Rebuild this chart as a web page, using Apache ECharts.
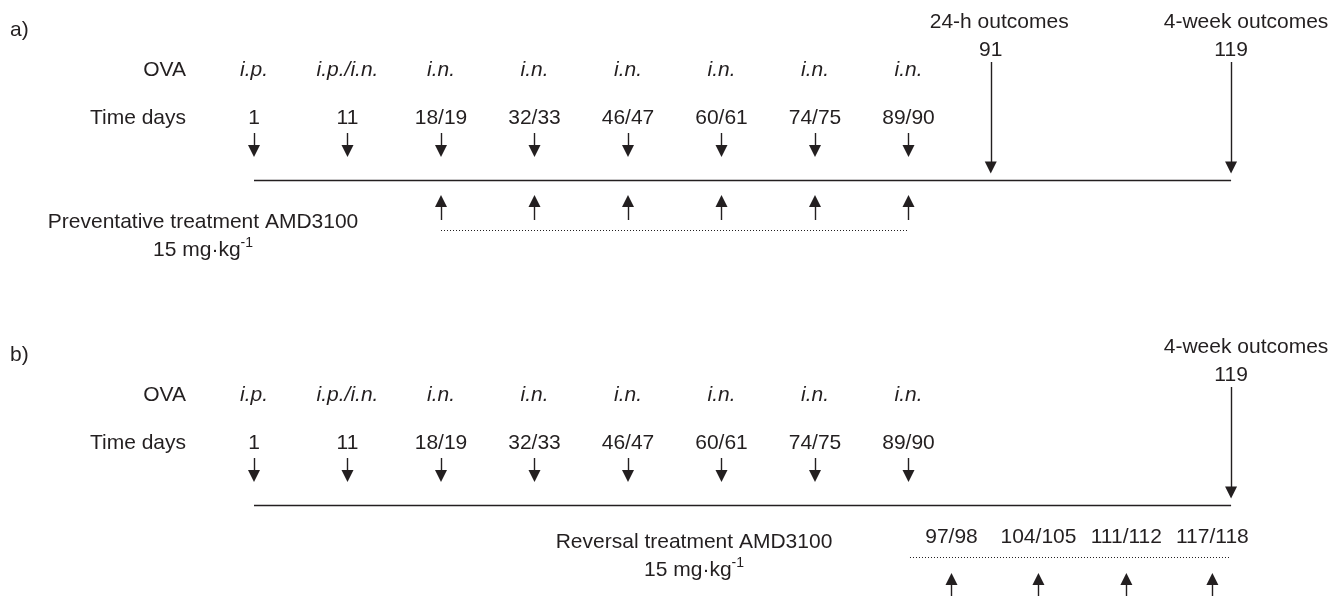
<!DOCTYPE html>
<html>
<head>
<meta charset="utf-8">
<title>OVA / AMD3100 protocol</title>
<script src="https://cdn.jsdelivr.net/npm/echarts@6/dist/echarts.min.js"></script>
<style>
html, body { margin: 0; padding: 0; background: #fff; }
#protocol-chart { width: 1344px; height: 596px; }
</style>
</head>
<body>
<div id="protocol-chart"></div>
<script>
// data
var ovaRoutes = ['i.p.', 'i.p./i.n.', 'i.n.', 'i.n.', 'i.n.', 'i.n.', 'i.n.', 'i.n.'];
var ovaDays = ['1', '11', '18/19', '32/33', '46/47', '60/61', '74/75', '89/90'];
var outcomeNamesA = ['24-h outcomes', '4-week outcomes'];
var outcomeDaysA = ['91', '119'];
var outcomeNamesB = ['4-week outcomes'];
var outcomeDaysB = ['119'];
var preventDays = ['18/19', '32/33', '46/47', '60/61', '74/75', '89/90'];
var reversalDays = ['97/98', '104/105', '111/112', '117/118'];

// layout: x is in "slots" (one slot per OVA dose), y in px inside a panel
var outcomeSlot = { '91': 7.88, '119': 10.45 };
var outcomeHeadShift = { '91': 0.09, '119': 0.16 };
var reversalSlot = [7.46, 8.39, 9.33, 10.25];
var ink = '#231f20';
var font = "'Liberation Sans', Arial, sans-serif";
var fs = 21;

var myChart = echarts.init(document.getElementById('protocol-chart'));

function slotOf(day) {
    var i = ovaDays.indexOf(day);
    return i >= 0 ? i : outcomeSlot[day];
}

function textSeries(grid, items, extra) {
    return {
        type: 'scatter',
        xAxisIndex: grid,
        yAxisIndex: grid,
        symbolSize: 0,
        silent: true,
        itemStyle: { opacity: 1 },
        label: Object.assign({
            show: true,
            position: 'inside',
            formatter: '{b}',
            color: ink,
            fontSize: fs,
            fontFamily: font,
            align: 'center',
            verticalAlign: 'middle'
        }, extra || {}),
        data: items.map(function (it) {
            return { name: it[0], value: [it[1], it[2]] };
        })
    };
}

function lineSeries(grid, segs, arrow, dotted) {
    return {
        type: 'lines',
        coordinateSystem: 'cartesian2d',
        xAxisIndex: grid,
        yAxisIndex: grid,
        silent: true,
        symbol: arrow ? ['none', 'triangle'] : 'none',
        symbolSize: 12,
        lineStyle: {
            color: ink,
            width: dotted ? 1 : 1.4,
            type: dotted ? [1, 2] : 'solid',
            opacity: 1
        },
        itemStyle: { color: ink, opacity: 1 },
        data: segs.map(function (s) { return { coords: s }; })
    };
}

function panel(grid, tag, outNames, outDays) {
    var list = [];
    list.push(textSeries(grid, [[tag, -2.61, 30]], { align: 'left' }));
    list.push(textSeries(grid, [['OVA', -0.727, 70], ['Time days', -0.727, 118]], { align: 'right' }));
    list.push(textSeries(grid, ovaRoutes.map(function (r, i) { return [r, i, 70]; }), { fontStyle: 'italic' }));
    list.push(textSeries(grid, ovaDays.map(function (d, i) { return [d, i, 118]; })));
    var heads = [];
    outDays.forEach(function (d, i) {
        heads.push([outNames[i], outcomeSlot[d] + outcomeHeadShift[d], 22]);
        heads.push([d, outcomeSlot[d], 50]);
    });
    list.push(textSeries(grid, heads));
    // dose arrows
    list.push(lineSeries(grid, ovaDays.map(function (d, i) {
        return [[i, 133], [i, 151]];
    }), true));
    // outcome arrows
    list.push(lineSeries(grid, outDays.map(function (d) {
        return [[outcomeSlot[d], 62], [outcomeSlot[d], 167.5]];
    }), true));
    // timeline
    list.push(lineSeries(grid, [[[0, 180], [outcomeSlot['119'], 180]]], false));
    return list;
}

var series = [].concat(
    panel(0, 'a)', outcomeNamesA, outcomeDaysA),
    panel(1, 'b)', outcomeNamesB, outcomeDaysB)
);

var richText = {
    n: { fontSize: fs, lineHeight: 28, color: ink, fontFamily: font },
    sup: { fontSize: 14, lineHeight: 14, color: ink, fontFamily: font, verticalAlign: 'top' }
};

// a) preventative treatment
series.push(textSeries(0, [['Preventative treatment AMD3100', -0.545, 236]], {
    formatter: '{n|{b}}\n{n|15 mg·kg}{sup|-1}', rich: richText
}));
series.push(lineSeries(0, preventDays.map(function (d) {
    return [[slotOf(d), 220], [slotOf(d), 201]];
}), true));
series.push(lineSeries(0, [[[slotOf(preventDays[0]), 230], [slotOf(preventDays[preventDays.length - 1]), 230]]], false, true));

// b) reversal treatment
series.push(textSeries(1, [['Reversal treatment AMD3100', 4.706, 231.5]], {
    formatter: '{n|{b}}\n{n|15 mg·kg}{sup|-1}', rich: richText
}));
series.push(textSeries(1, reversalDays.map(function (d, i) { return [d, reversalSlot[i], 212]; })));
series.push(lineSeries(1, [[[7.016, 232], [10.44, 232]]], false, true));
series.push(lineSeries(1, reversalSlot.map(function (s) {
    return [[s, 275], [s, 254]];
}), true));

var xAx = { type: 'value', min: -254 / 93.5, max: (1344 - 254) / 93.5, show: false };
var yAx = { type: 'value', min: 0, max: 271, inverse: true, show: false };

var option = {
    animation: false,
    backgroundColor: '#fff',
    grid: [
        { left: 0, right: 0, top: 0, height: 271 },
        { left: 0, right: 0, top: 325, height: 271 }
    ],
    xAxis: [Object.assign({ gridIndex: 0 }, xAx), Object.assign({ gridIndex: 1 }, xAx)],
    yAxis: [Object.assign({ gridIndex: 0 }, yAx), Object.assign({ gridIndex: 1 }, yAx)],
    series: series
};

myChart.setOption(option);
</script>
</body>
</html>
